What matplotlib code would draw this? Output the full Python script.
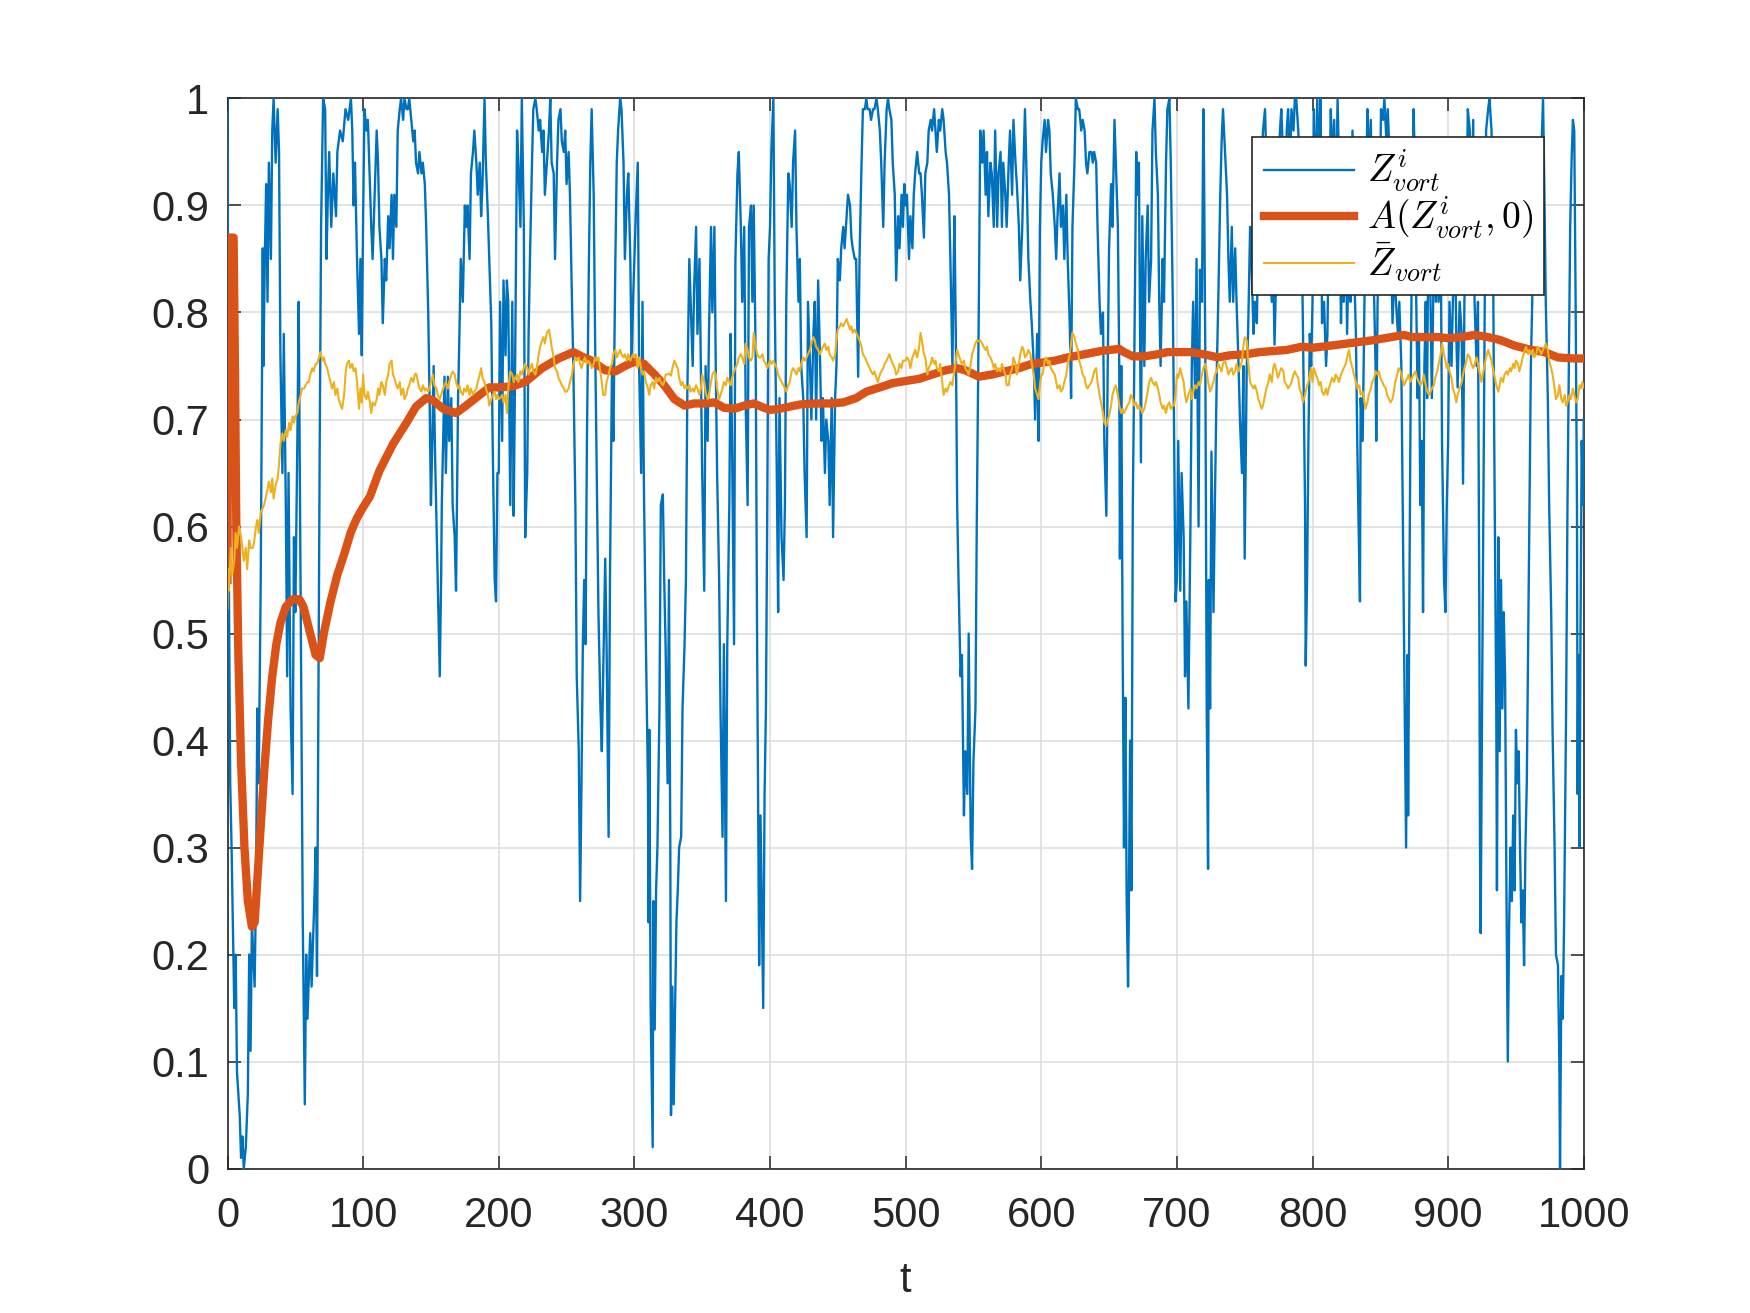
import numpy as np
import matplotlib
matplotlib.use("Agg")
import matplotlib.pyplot as plt

# === series (t, value) ===
z_vort = [
    (0, 1.0), (1, 0.55), (2, 0.36), (3, 0.30), (5, 0.15), (6, 0.20), (7, 0.09), (9, 0.05), (10, 0.01), (11, 0.03),
    (12, 0.0), (13.5, 0.02), (15, 0.07), (16, 0.20), (17, 0.11), (18, 0.23), (20, 0.17), (21, 0.26), (22, 0.43),
    (23, 0.36), (24.5, 0.55), (26, 0.86), (26.5, 0.75), (27.5, 0.85), (28.5, 0.92), (29.5, 0.81), (30.5, 0.94),
    (32, 0.85), (33, 0.97), (34, 1.0), (35.5, 0.94), (37, 0.99), (38, 0.95), (39, 0.76), (40.5, 0.65), (41.5, 0.78),
    (43, 0.62), (44, 0.46), (45, 0.65), (46.5, 0.43), (48, 0.35), (49, 0.59), (50, 0.52), (51.5, 0.68), (52.5, 0.81),
    (53.5, 0.62), (54.5, 0.43), (55.5, 0.23), (57, 0.06), (58, 0.20), (59, 0.14), (61, 0.22), (62, 0.17), (64, 0.25),
    (65, 0.30), (66, 0.18), (67, 0.43), (68, 0.68), (69, 0.88), (70.5, 1.0), (72, 0.99), (73, 0.85), (74, 0.91),
    (75, 0.95), (76.5, 0.88), (78, 0.93), (80, 0.89), (81, 0.95), (83, 0.97), (85, 0.96), (87, 0.99), (89, 0.98),
    (91, 1.0), (92, 0.97), (93, 0.90), (94, 0.94), (95.5, 0.85), (97, 0.78), (98, 0.85), (99, 0.76),
    (100, 0.89), (101, 0.99), (102.5, 0.97), (103.5, 0.98), (105, 0.92), (106, 0.88), (107, 0.85), (108.5, 0.91),
    (110, 0.97), (111, 0.94), (112, 0.88), (113.5, 0.85), (114.5, 0.79), (116, 0.85), (117, 0.83), (118.5, 0.89),
    (119.5, 0.86), (121, 0.91), (122, 0.85), (123, 0.91), (124.5, 0.88), (125.5, 0.97), (127, 0.99), (128, 1.0),
    (129.5, 0.98), (130.5, 1.0), (132, 0.99), (133, 0.99), (134, 1.0), (135.5, 0.98), (137, 0.96), (138, 0.97),
    (139, 0.94), (140.5, 0.93), (141.5, 0.95), (143, 0.93), (144, 0.94), (145.5, 0.92), (146.5, 0.88), (148, 0.80),
    (149, 0.72), (150, 0.62), (151, 0.68), (152, 0.75), (153, 0.67), (154, 0.61), (155, 0.55), (156.5, 0.46),
    (157.5, 0.55), (158, 0.62), (159, 0.68), (160, 0.74), (161, 0.65), (162.5, 0.74), (163.5, 0.68), (165, 0.72),
    (166, 0.62), (167.5, 0.59), (168.5, 0.54), (170, 0.72), (171, 0.78), (172, 0.85), (173.5, 0.81), (175, 0.90),
    (176, 0.88), (177, 0.90), (178.5, 0.85), (179.5, 0.93), (181, 0.95), (182, 0.97), (183.5, 0.94), (184.5, 0.91),
    (186, 0.94), (187, 0.89), (188, 0.92), (189.5, 1.0), (190.5, 0.94), (192, 0.89), (193, 0.85), (194.5, 0.79),
    (195.5, 0.68), (197, 0.55), (198, 0.53), (199, 0.65),
    (200, 0.65), (201, 0.81), (202.5, 0.68), (203.5, 0.83), (205, 0.76), (206, 0.83), (207, 0.81), (208.5, 0.62),
    (210, 0.81), (211, 0.61), (212, 0.74), (213.5, 0.97), (214.5, 0.94), (216, 0.88), (217, 1.0), (218.5, 0.88),
    (219.5, 0.59), (221, 0.65), (222, 0.78), (223, 0.85), (224.5, 0.94), (225.5, 0.99), (227, 1.0), (228, 0.99),
    (229.5, 0.97), (230.5, 0.98), (232, 0.95), (233, 0.97), (234, 0.91), (235.5, 0.94), (237, 0.97), (238, 1.0),
    (239, 0.94), (240.5, 0.93), (241.5, 0.85), (243, 0.94), (244, 0.98), (245.5, 0.99), (246.5, 0.96), (248, 0.95),
    (249, 0.97), (250, 0.92), (251.5, 0.95), (252.5, 0.91), (254, 0.81), (255, 0.75), (256.5, 0.62), (257.5, 0.46),
    (259, 0.39), (260, 0.25), (261, 0.36), (262, 0.49), (263, 0.55), (264, 0.49), (265, 0.68), (266.5, 0.85),
    (267.5, 0.94), (268.5, 0.99), (270, 0.91), (271, 0.78), (272.5, 0.62), (273.5, 0.52), (275, 0.43), (276, 0.39),
    (277, 0.46), (278.5, 0.57), (279.5, 0.49), (281, 0.31), (282, 0.55), (283.5, 0.75), (284.5, 0.68), (286, 0.85),
    (287, 0.94), (288, 0.97), (289.5, 1.0), (290.5, 0.99), (292, 0.94), (293, 0.85), (294.5, 0.91), (295.5, 0.93),
    (297, 0.85), (298, 0.75), (299, 0.81),
    (300, 0.85), (301, 0.89), (302.5, 0.94), (303.5, 0.75), (305, 0.65), (306, 0.81), (307, 0.64), (308.5, 0.49),
    (310, 0.36), (310.5, 0.23), (311, 0.41), (312, 0.15), (313.5, 0.02), (314, 0.25), (315, 0.13), (316, 0.26),
    (317, 0.30), (318.5, 0.43), (319.5, 0.62), (321, 0.63), (322, 0.55), (323, 0.49), (324.5, 0.36), (325.5, 0.55),
    (326.5, 0.30), (327, 0.05), (328, 0.17), (329, 0.06), (330, 0.15), (331, 0.23), (332, 0.26), (333, 0.30),
    (334.5, 0.31), (335.5, 0.43), (337, 0.49), (338, 0.55), (339, 0.72), (340.5, 0.85), (341.5, 0.81), (343, 0.75),
    (344, 0.82), (345.5, 0.88), (346.5, 0.78), (348, 0.85), (349, 0.75), (350, 0.65), (351.5, 0.54), (352.5, 0.75),
    (354, 0.68), (355, 0.78), (356.5, 0.88), (357.5, 0.80), (359, 0.88), (360, 0.75), (361, 0.65), (362.5, 0.55),
    (363.5, 0.43), (365, 0.31), (366, 0.49), (367.5, 0.25), (368.5, 0.49), (370, 0.62), (371, 0.78), (372, 0.68),
    (373.5, 0.49), (374.5, 0.85), (376, 0.93), (377, 0.95), (378.5, 0.88), (379.5, 0.81), (381, 0.88), (382, 0.72),
    (383.5, 0.62), (384.5, 0.88), (386, 0.90), (387, 0.81), (388, 0.90), (389.5, 0.75), (390.5, 0.49), (392, 0.19),
    (393, 0.33), (394.5, 0.20), (395, 0.15), (396, 0.35), (397, 0.43), (398, 0.62), (399, 0.85),
    (400, 0.88), (401, 0.95), (402.5, 1.0), (403.5, 0.81), (405, 0.65), (406, 0.52), (407, 0.72), (408.5, 0.59),
    (410, 0.55), (411, 0.62), (412, 0.81), (413.5, 0.93), (414.5, 0.92), (416, 0.88), (417, 0.94), (418.5, 0.97),
    (419.5, 0.88), (421, 0.81), (422, 0.85), (423, 0.75), (424.5, 0.72), (425.5, 0.65), (427, 0.59), (428, 0.81),
    (429.5, 0.75), (430.5, 0.70), (432, 0.78), (433, 0.81), (434, 0.70), (435.5, 0.83), (437, 0.75), (438, 0.68),
    (439, 0.72), (440.5, 0.65), (441.5, 0.70), (443, 0.68), (444, 0.62), (445.5, 0.72), (446.5, 0.59), (448, 0.72),
    (449, 0.75), (450, 0.85), (451.5, 0.83), (452.5, 0.86), (454, 0.88), (455, 0.86), (456.5, 0.89), (457.5, 0.91),
    (459, 0.90), (460, 0.87), (461, 0.86), (462.5, 0.85), (463.5, 0.85), (465, 0.74), (466, 0.85), (467.5, 0.94),
    (468.5, 0.99), (470, 0.99), (471, 1.0), (472, 0.99), (473.5, 0.99), (474.5, 0.98), (476, 0.99), (477, 0.99),
    (478.5, 1.0), (479.5, 0.99), (481, 0.97), (482, 0.94), (483.5, 0.88), (484.5, 0.94), (486, 0.99), (487, 1.0),
    (488, 0.99), (489.5, 0.98), (490.5, 0.94), (492, 0.91), (493, 0.83), (494.5, 0.89), (495.5, 0.86), (497, 0.91),
    (498, 0.88), (499, 0.92),
    (500, 0.90), (501, 0.91), (502.5, 0.85), (503.5, 0.89), (505, 0.86), (506, 0.91), (507, 0.93), (508.5, 0.95),
    (510, 0.93), (511, 0.93), (512, 0.91), (513.5, 0.87), (514.5, 0.93), (516, 0.94), (517, 0.97), (518.5, 0.98),
    (519.5, 0.97), (521, 0.99), (522, 0.97), (523, 0.95), (524.5, 0.98), (525.5, 0.97), (527, 0.99), (528, 0.98),
    (529.5, 0.95), (530.5, 0.94), (532, 0.91), (533, 0.85), (534.5, 0.75), (535.5, 0.85), (536, 0.89), (537, 0.78),
    (538, 0.62), (539, 0.55), (540.5, 0.46), (541.5, 0.48), (543, 0.33), (544, 0.39), (545.5, 0.35), (546.5, 0.50),
    (548, 0.31), (549, 0.28), (550, 0.38), (551.5, 0.43), (552.5, 0.61), (554, 0.81), (555, 0.97), (556.5, 0.94),
    (557.5, 0.97), (559, 0.91), (560, 0.95), (561, 0.89), (562.5, 0.94), (563.5, 0.93), (565, 0.88), (566, 0.97),
    (567.5, 0.88), (568.5, 0.93), (570, 0.95), (571, 0.88), (572, 0.94), (573.5, 0.91), (574.5, 0.88), (576, 0.94),
    (577, 0.97), (578.5, 0.91), (579.5, 0.98), (581, 0.94), (582, 0.92), (583.5, 0.88), (584.5, 0.83), (586, 0.88),
    (587, 0.94), (588, 0.99), (589.5, 0.91), (590.5, 0.85), (592, 0.81), (593, 0.79), (594.5, 0.75), (595.5, 0.70),
    (597, 0.78), (598, 0.68), (599, 0.88),
    (600, 0.94), (601, 0.96), (602.5, 0.98), (603.5, 0.95), (605, 0.98), (606, 0.97), (607, 0.93), (608.5, 0.91),
    (610, 0.88), (611, 0.85), (612, 0.89), (613.5, 0.93), (614.5, 0.88), (616, 0.90), (617, 0.85), (618.5, 0.91),
    (619.5, 0.85), (621, 0.79), (622, 0.72), (623, 0.88), (624.5, 0.94), (625.5, 1.0), (627, 0.99), (628, 0.99),
    (629.5, 0.97), (630.5, 0.98), (632, 0.97), (633, 0.94), (634, 0.93), (635.5, 0.95), (637, 0.95), (638, 0.94),
    (639, 0.95), (640.5, 0.94), (641.5, 0.88), (643, 0.81), (644, 0.78), (645.5, 0.80), (646.5, 0.68), (648, 0.61),
    (649, 0.75), (650, 0.86), (651.5, 0.92), (652.5, 0.88), (654, 0.98), (655, 0.94), (656.5, 0.88), (657.5, 0.75),
    (658, 0.57), (659, 0.75), (660, 0.49), (661, 0.30), (662, 0.44), (663, 0.25), (664, 0.17), (664.5, 0.23),
    (665.5, 0.40), (666.5, 0.26), (667.5, 0.62), (668.5, 0.74), (670, 0.95), (671, 0.91), (672, 0.94), (673.5, 0.66),
    (674.5, 0.89), (676, 0.75), (677, 0.85), (678.5, 0.90), (679.5, 0.81), (681, 0.85), (682, 0.97), (683.5, 1.0),
    (684.5, 0.95), (686, 0.91), (687, 0.81), (688, 0.75), (689.5, 0.85), (690.5, 0.81), (692, 0.94), (693, 0.99),
    (694.5, 1.0), (695.5, 0.94), (697, 0.81), (698, 0.68), (699, 0.53),
    (700, 0.55), (701, 0.68), (702.5, 0.54), (703.5, 0.65), (705, 0.59), (706, 0.46), (707, 0.53), (708.5, 0.43),
    (710, 0.60), (711, 0.75), (712, 0.81), (713.5, 0.72), (714.5, 0.85), (716, 0.60), (717, 0.84), (718.5, 0.81),
    (719.5, 0.99), (720, 0.94), (721, 0.75), (722, 0.43), (723, 0.28), (723.5, 0.55), (724.5, 0.43), (725.5, 0.67),
    (727, 0.52), (728, 0.62), (729.5, 0.75), (730.5, 0.81), (732, 0.91), (733, 0.96), (734, 0.99), (735.5, 0.95),
    (737, 0.91), (738, 0.85), (739, 0.81), (740.5, 0.88), (741.5, 0.81), (743, 0.86), (744, 0.81), (745.5, 0.75),
    (746.5, 0.70), (748, 0.65), (749, 0.75), (750, 0.57), (751.5, 0.75), (752.5, 0.78), (754, 0.88), (755, 0.85),
    (756.5, 0.78), (757.5, 0.81), (759, 0.79), (760, 0.88), (761, 0.91), (762.5, 0.94), (763.5, 0.97), (765, 0.99),
    (766, 0.94), (767.5, 0.88), (768.5, 0.85), (770, 0.81), (771, 0.85), (772, 0.77), (773.5, 0.85), (774.5, 0.91),
    (776, 0.97), (777, 0.99), (778.5, 0.94), (779.5, 0.91), (781, 0.97), (782, 0.99), (783.5, 0.94), (784.5, 0.99),
    (786, 0.97), (787, 1.0), (788, 1.0), (789.5, 0.97), (790.5, 0.94), (792, 0.88), (793, 0.78), (794.5, 0.62),
    (795, 0.47), (796, 0.55), (797, 0.68), (798, 0.78), (799, 0.75),
    (800, 0.81), (801, 0.99), (802.5, 0.90), (803.5, 1.0), (805, 0.93), (806, 1.0), (807, 0.79), (808.5, 0.81),
    (810, 0.75), (811, 0.78), (812, 0.88), (813.5, 0.99), (814.5, 0.94), (816, 0.98), (817, 0.88), (818.5, 1.0),
    (819.5, 0.94), (821, 0.79), (822, 0.85), (823, 0.81), (824.5, 0.88), (825.5, 0.78), (827, 0.88), (828, 0.81),
    (829.5, 0.97), (830.5, 0.85), (832, 0.78), (833, 0.68), (834, 0.60), (835, 0.53), (835.5, 0.72), (837, 0.68),
    (838, 0.78), (839, 0.88), (840.5, 0.99), (841.5, 0.94), (843, 0.98), (844, 0.88), (845.5, 0.81), (846.5, 0.75),
    (847, 0.68), (848, 0.81), (849.5, 0.88), (850.5, 0.99), (852, 0.98), (853, 1.0), (854.5, 0.96), (855.5, 0.99),
    (857, 0.94), (858, 0.85), (859, 0.79), (860.5, 0.85), (861.5, 0.81), (863, 0.78), (864, 0.81), (865.5, 0.75),
    (866.5, 0.62), (867.5, 0.49), (868.5, 0.36), (869, 0.30), (870, 0.48), (870.5, 0.33), (871.5, 0.55), (872.5, 0.75),
    (873.5, 0.88), (874.5, 0.99), (875.5, 0.94), (876.5, 0.81), (877.5, 0.72), (878.5, 0.78), (879.5, 0.62),
    (880.5, 0.68), (881.5, 0.52), (882.5, 0.75), (883.5, 0.81), (884.5, 0.72), (885, 0.81), (886, 0.88), (887, 0.81),
    (888, 0.72), (889, 0.81), (890, 0.88), (891, 0.81), (892, 0.88), (893, 0.81), (894.5, 0.88), (895.5, 0.68),
    (897, 0.55), (898, 0.52), (899, 0.62),
    (900, 0.68), (901, 0.81), (902.5, 0.75), (903.5, 0.81), (905, 0.88), (906, 0.78), (907, 0.73), (908.5, 0.81),
    (910, 0.78), (911, 0.64), (912, 0.81), (913.5, 0.88), (914.5, 0.99), (916, 0.97), (917, 0.88), (918.5, 0.98),
    (919.5, 0.81), (921, 0.75), (922, 0.81), (923, 0.52), (923.5, 0.30), (924, 0.22), (925, 0.43), (926, 0.62),
    (927, 0.81), (928, 0.97), (929.5, 0.99), (930.5, 1.0), (932, 0.97), (933, 0.88), (934, 0.68), (935.5, 0.43),
    (936, 0.26), (937, 0.59), (938, 0.39), (939, 0.55), (940, 0.43), (941, 0.52), (942, 0.46), (943, 0.26),
    (944, 0.10), (945, 0.23), (946, 0.30), (947, 0.25), (948, 0.33), (949, 0.26), (950, 0.41), (951, 0.36),
    (952, 0.39), (953, 0.30), (954, 0.23), (955, 0.26), (956, 0.19), (957, 0.30), (958, 0.36), (959, 0.49),
    (960, 0.62), (961, 0.75), (962, 0.81), (963, 0.88), (964, 0.94), (965, 0.88), (966, 0.91), (967.5, 0.88),
    (968.5, 0.94), (970, 1.0), (971, 0.91), (972, 0.81), (973.5, 0.72), (974.5, 0.62), (976, 0.52), (977, 0.41),
    (978.5, 0.30), (979.5, 0.20), (981, 0.19), (982, 0.10), (982.5, 0.0), (983.5, 0.18), (984.5, 0.14),
    (985.5, 0.23), (986, 0.30), (987, 0.43), (988, 0.62), (989, 0.75), (990, 0.88), (991, 0.94), (992, 0.98),
    (993, 0.97), (994, 0.81), (995, 0.62), (995.5, 0.35), (996, 0.48), (997, 0.30), (997.5, 0.48), (998.5, 0.68),
    (999.5, 0.62), (1000, 0.70),
]

a_vort = [
    (0, 0.55), (0.5, 0.87), (4.5, 0.87), (5.5, 0.75), (6.5, 0.60), (8, 0.48), (10, 0.38), (12.5, 0.30), (15, 0.25),
    (18, 0.226), (20, 0.23), (22, 0.27), (24, 0.31), (27, 0.37), (30, 0.42), (33, 0.46), (36, 0.49), (39, 0.51),
    (43, 0.525), (48, 0.532), (53, 0.532), (56, 0.525), (59, 0.51), (62, 0.495), (65, 0.48), (68, 0.477), (71, 0.50),
    (76, 0.53), (81, 0.555), (86, 0.574), (91, 0.595), (95.5, 0.608), (100, 0.618), (105, 0.628), (112, 0.652),
    (122, 0.677), (132, 0.697), (139, 0.712), (146.5, 0.72), (151.5, 0.718), (159, 0.71), (168.5, 0.706),
    (176, 0.713), (186, 0.723), (193, 0.73), (200, 0.73), (210, 0.731), (219.5, 0.735), (232, 0.748), (244, 0.757),
    (255, 0.763), (261, 0.759), (268.5, 0.755), (278.5, 0.746), (286, 0.745), (293, 0.75), (300, 0.754),
    (307, 0.752), (315, 0.742), (322, 0.732), (329.5, 0.719), (337, 0.713), (344, 0.715), (351.5, 0.715),
    (359, 0.716), (366, 0.711), (373.5, 0.71), (381, 0.713), (388, 0.715), (395.5, 0.711), (400, 0.709),
    (407, 0.71), (414.5, 0.712), (422, 0.714), (432, 0.715), (444, 0.715), (454, 0.716), (463.5, 0.72),
    (471, 0.726), (481, 0.73), (490.5, 0.734), (500, 0.736), (510, 0.738), (519.5, 0.742), (529.5, 0.746),
    (538, 0.748), (544, 0.746), (554, 0.74), (563.5, 0.742), (573.5, 0.745), (583.5, 0.748), (593, 0.752),
    (600, 0.753), (610, 0.755), (619.5, 0.758), (632, 0.761), (644, 0.764), (657.5, 0.766), (661, 0.763),
    (667.5, 0.759), (676, 0.759), (686, 0.761), (693, 0.763), (700, 0.763), (710, 0.763), (719.5, 0.761),
    (730.5, 0.758), (739, 0.76), (751.5, 0.761), (761, 0.763), (771, 0.764), (781, 0.765), (792, 0.768),
    (800, 0.767), (819.5, 0.77), (844, 0.774), (867.5, 0.779), (873.5, 0.777), (883.5, 0.777), (893, 0.777),
    (900, 0.776), (910, 0.777), (919.5, 0.779), (929.5, 0.777), (939, 0.774), (949, 0.769), (961.5, 0.765),
    (971, 0.763), (981, 0.758), (993, 0.757), (1000, 0.757),
]

zbar_vort = [
    (0, 0.523), (0.5, 0.56), (1, 0.54), (2.5, 0.58), (3.5, 0.555), (5, 0.568), (6, 0.594), (7, 0.58), (8.5, 0.60),
    (10, 0.59), (11, 0.58), (12, 0.568), (13.5, 0.58), (14.5, 0.56), (16, 0.587), (17, 0.58), (18.5, 0.58),
    (19.5, 0.584), (21, 0.60), (22, 0.606), (23, 0.594), (24.5, 0.613), (25.5, 0.616), (27, 0.62), (28, 0.626),
    (29.5, 0.635), (30.5, 0.642), (32, 0.632), (33, 0.645), (34, 0.626), (35.5, 0.639), (37, 0.645), (38, 0.658),
    (39, 0.677), (40.5, 0.687), (41.5, 0.68), (43, 0.69), (44, 0.684), (45.5, 0.697), (46.5, 0.69), (48, 0.703),
    (49, 0.697), (50, 0.703), (51.5, 0.706), (52.5, 0.716), (54, 0.723), (55, 0.729), (56.5, 0.729), (57.5, 0.732),
    (59, 0.735), (60, 0.735), (61, 0.742), (62.5, 0.748), (63.5, 0.745), (65, 0.752), (66, 0.752), (67.5, 0.758),
    (68.5, 0.763), (70, 0.755), (71, 0.758), (72, 0.752), (73.5, 0.748), (74.5, 0.742), (76, 0.735), (77, 0.729),
    (78.5, 0.735), (79.5, 0.723), (81, 0.729), (82, 0.719), (83.5, 0.713), (84.5, 0.71), (86, 0.723), (87, 0.742),
    (88, 0.752), (89.5, 0.755), (90.5, 0.748), (92, 0.752), (93, 0.745), (94.5, 0.748), (95.5, 0.735), (97, 0.71),
    (98, 0.729), (99, 0.716),
    (100, 0.742), (101, 0.723), (102.5, 0.719), (103.5, 0.726), (105, 0.716), (106, 0.706), (107, 0.716),
    (108.5, 0.713), (110, 0.719), (111, 0.729), (112, 0.723), (113.5, 0.735), (114.5, 0.732), (116, 0.723),
    (117, 0.735), (118.5, 0.742), (119.5, 0.752), (121, 0.755), (122, 0.742), (123, 0.739), (124.5, 0.732),
    (125.5, 0.729), (127, 0.735), (128, 0.723), (129.5, 0.729), (130.5, 0.719), (132, 0.723), (133, 0.729),
    (134, 0.732), (135.5, 0.739), (137, 0.735), (138, 0.742), (139, 0.743), (140.5, 0.735), (141.5, 0.729),
    (143, 0.726), (144, 0.732), (145.5, 0.727), (146.5, 0.729), (148, 0.726), (149, 0.729), (150, 0.735),
    (151.5, 0.742), (152.5, 0.732), (154, 0.729), (155, 0.723), (156.5, 0.719), (157.5, 0.723), (159, 0.729),
    (160, 0.732), (161, 0.735), (162.5, 0.729), (163.5, 0.735), (165, 0.742), (166, 0.745), (167.5, 0.742),
    (168.5, 0.735), (170, 0.729), (171, 0.732), (172, 0.726), (173.5, 0.723), (174.5, 0.729), (176, 0.726),
    (177, 0.732), (178.5, 0.723), (179.5, 0.729), (181, 0.723), (182, 0.726), (183.5, 0.729), (184.5, 0.735),
    (186, 0.742), (187, 0.748), (188, 0.739), (189.5, 0.735), (190.5, 0.729), (192, 0.723), (193, 0.713),
    (194.5, 0.719), (195.5, 0.723), (197, 0.726), (198, 0.719), (199, 0.723),
    (200, 0.719), (201, 0.72), (202.5, 0.723), (203.5, 0.716), (205, 0.723), (206, 0.706), (207, 0.729),
    (208.5, 0.745), (210, 0.742), (211, 0.735), (212, 0.739), (213.5, 0.742), (214.5, 0.735), (216, 0.745),
    (217, 0.742), (218.5, 0.748), (219.5, 0.752), (221, 0.748), (222, 0.742), (223, 0.748), (224.5, 0.752),
    (225.5, 0.745), (227, 0.742), (228, 0.748), (229.5, 0.761), (230.5, 0.768), (232, 0.774), (233, 0.777),
    (234, 0.771), (235.5, 0.781), (237, 0.784), (238, 0.777), (239, 0.768), (240.5, 0.758), (241.5, 0.748),
    (243, 0.745), (244, 0.739), (245.5, 0.735), (246.5, 0.732), (248, 0.729), (249, 0.726), (250, 0.726),
    (251.5, 0.729), (252.5, 0.735), (254, 0.742), (255, 0.752), (256.5, 0.758), (257.5, 0.755), (259, 0.758),
    (260, 0.752), (261, 0.748), (262.5, 0.755), (263.5, 0.758), (265, 0.752), (266, 0.755), (267.5, 0.752),
    (268.5, 0.748), (270, 0.752), (271, 0.758), (272, 0.755), (273.5, 0.758), (274.5, 0.748), (276, 0.735),
    (277, 0.723), (278.5, 0.723), (279.5, 0.735), (281, 0.742), (282, 0.748), (283.5, 0.752), (284.5, 0.761),
    (286, 0.765), (287, 0.758), (288, 0.761), (289.5, 0.765), (290.5, 0.761), (292, 0.758), (293, 0.761),
    (294.5, 0.755), (295.5, 0.761), (297, 0.755), (298, 0.758), (299, 0.761),
    (300, 0.758), (301, 0.761), (302.5, 0.748), (303.5, 0.758), (305, 0.748), (306, 0.742), (307, 0.745),
    (308.5, 0.735), (310, 0.729), (311, 0.723), (312, 0.732), (313.5, 0.735), (314.5, 0.729), (316, 0.739),
    (317, 0.735), (318.5, 0.739), (319.5, 0.735), (321, 0.732), (322, 0.735), (323, 0.742), (324.5, 0.742),
    (325.5, 0.743), (327, 0.741), (328, 0.748), (329.5, 0.755), (330.5, 0.752), (332, 0.748), (333, 0.739),
    (334.5, 0.732), (335.5, 0.735), (337, 0.729), (338, 0.732), (339, 0.729), (340.5, 0.732), (341.5, 0.726),
    (343, 0.729), (344, 0.726), (345.5, 0.732), (346.5, 0.729), (348, 0.723), (349, 0.729), (350, 0.742),
    (351.5, 0.735), (352.5, 0.726), (354, 0.719), (355, 0.723), (356.5, 0.735), (357.5, 0.742), (359, 0.745),
    (360, 0.742), (361, 0.729), (362.5, 0.719), (363.5, 0.723), (365, 0.729), (366, 0.735), (367.5, 0.732),
    (368.5, 0.739), (370, 0.735), (371, 0.732), (372, 0.739), (373.5, 0.745), (374.5, 0.748), (376, 0.752),
    (377, 0.758), (378.5, 0.761), (379.5, 0.758), (381, 0.752), (382, 0.771), (383.5, 0.765), (384.5, 0.758),
    (386, 0.755), (387, 0.758), (388, 0.781), (389.5, 0.768), (390.5, 0.761), (392, 0.758), (393, 0.758),
    (394.5, 0.761), (395.5, 0.755), (397, 0.752), (398, 0.748), (399, 0.752),
    (400, 0.755), (401, 0.752), (402.5, 0.755), (403.5, 0.752), (405, 0.748), (406, 0.742), (407, 0.739),
    (408.5, 0.735), (410, 0.732), (411, 0.729), (412, 0.726), (413.5, 0.732), (414.5, 0.735), (416, 0.745),
    (417, 0.748), (418.5, 0.745), (419.5, 0.742), (421, 0.748), (422, 0.745), (423, 0.752), (424.5, 0.758),
    (425.5, 0.755), (427, 0.758), (428, 0.761), (429.5, 0.765), (430.5, 0.771), (432, 0.777), (433, 0.774),
    (434, 0.768), (435.5, 0.765), (437, 0.761), (438, 0.765), (439, 0.768), (440.5, 0.771), (441.5, 0.765),
    (443, 0.768), (444, 0.761), (445.5, 0.758), (446.5, 0.755), (448, 0.761), (449, 0.774), (450, 0.784),
    (451.5, 0.787), (452.5, 0.79), (454, 0.787), (455, 0.79), (456.5, 0.794), (457.5, 0.79), (459, 0.784),
    (460, 0.787), (461, 0.781), (462.5, 0.784), (463.5, 0.781), (465, 0.777), (466, 0.774), (467.5, 0.768),
    (468.5, 0.761), (470, 0.758), (471, 0.755), (472, 0.752), (473.5, 0.748), (474.5, 0.745), (476, 0.742),
    (477, 0.745), (478.5, 0.739), (479.5, 0.735), (481, 0.742), (482, 0.745), (483.5, 0.748), (484.5, 0.752),
    (486, 0.755), (487, 0.758), (488, 0.761), (489.5, 0.755), (490.5, 0.752), (492, 0.748), (493, 0.742),
    (494.5, 0.745), (495.5, 0.752), (497, 0.748), (498, 0.755), (499, 0.755),
    (500, 0.755), (501, 0.758), (502.5, 0.755), (503.5, 0.748), (505, 0.758), (506, 0.761), (507, 0.765),
    (508.5, 0.758), (510, 0.768), (511, 0.781), (512, 0.774), (513.5, 0.761), (514.5, 0.758), (516, 0.742),
    (517, 0.748), (518.5, 0.752), (519.5, 0.758), (521, 0.752), (522, 0.755), (523, 0.748), (524.5, 0.745),
    (525.5, 0.752), (527, 0.735), (528, 0.723), (529.5, 0.729), (530.5, 0.726), (532, 0.732), (533, 0.735),
    (534.5, 0.732), (535.5, 0.742), (537, 0.755), (538, 0.765), (539, 0.761), (540.5, 0.755), (541.5, 0.752),
    (543, 0.755), (544, 0.748), (545.5, 0.745), (546.5, 0.742), (548, 0.752), (549, 0.761), (550, 0.765),
    (551.5, 0.771), (552.5, 0.774), (554, 0.773), (555, 0.774), (556.5, 0.771), (557.5, 0.768), (559, 0.765),
    (560, 0.768), (561, 0.761), (562.5, 0.758), (563.5, 0.755), (565, 0.748), (566, 0.752), (567.5, 0.745),
    (568.5, 0.748), (570, 0.745), (571, 0.752), (572, 0.748), (573.5, 0.742), (574.5, 0.732), (576, 0.732),
    (577, 0.742), (578.5, 0.748), (579.5, 0.758), (581, 0.752), (582, 0.742), (583.5, 0.752), (584.5, 0.761),
    (586, 0.768), (587, 0.765), (588, 0.758), (589.5, 0.761), (590.5, 0.765), (592, 0.761), (593, 0.752),
    (594.5, 0.742), (595.5, 0.729), (597, 0.723), (598, 0.719), (599, 0.732),
    (600, 0.742), (601, 0.742), (602.5, 0.755), (603.5, 0.758), (605, 0.752), (606, 0.755), (607, 0.748),
    (608.5, 0.745), (610, 0.742), (611, 0.735), (612, 0.729), (613.5, 0.732), (614.5, 0.726), (616, 0.729),
    (617, 0.735), (618.5, 0.742), (619.5, 0.752), (621, 0.761), (622, 0.771), (623, 0.781), (624.5, 0.777),
    (625.5, 0.771), (627, 0.765), (628, 0.755), (629.5, 0.748), (630.5, 0.742), (632, 0.739), (633, 0.732),
    (634, 0.729), (635.5, 0.732), (637, 0.735), (638, 0.739), (639, 0.745), (640.5, 0.748), (641.5, 0.735),
    (643, 0.723), (644, 0.716), (645.5, 0.706), (646.5, 0.697), (648, 0.694), (649, 0.70), (650, 0.703),
    (651.5, 0.713), (652.5, 0.723), (654, 0.729), (655, 0.732), (656.5, 0.723), (657.5, 0.713), (659, 0.706),
    (660, 0.71), (661, 0.706), (662.5, 0.71), (663.5, 0.713), (665, 0.716), (666, 0.723), (667.5, 0.719),
    (668.5, 0.713), (670, 0.716), (671, 0.71), (672, 0.713), (673.5, 0.71), (674.5, 0.706), (676, 0.71),
    (677, 0.716), (678.5, 0.726), (679.5, 0.735), (681, 0.739), (682, 0.735), (683.5, 0.732), (684.5, 0.735),
    (686, 0.729), (687, 0.723), (688, 0.716), (689.5, 0.71), (690.5, 0.713), (692, 0.706), (693, 0.713),
    (694.5, 0.716), (695.5, 0.71), (697, 0.713), (698, 0.713), (699, 0.723),
    (700, 0.742), (701, 0.739), (702.5, 0.748), (703.5, 0.742), (705, 0.735), (706, 0.723), (707, 0.716),
    (708.5, 0.723), (710, 0.729), (711, 0.719), (712, 0.726), (713.5, 0.732), (714.5, 0.729), (716, 0.735),
    (717, 0.732), (718.5, 0.742), (719.5, 0.748), (721, 0.752), (722, 0.745), (723, 0.735), (724.5, 0.726),
    (725.5, 0.729), (727, 0.735), (728, 0.742), (729.5, 0.745), (730.5, 0.752), (732, 0.748), (733, 0.745),
    (734, 0.752), (735.5, 0.755), (737, 0.748), (738, 0.742), (739, 0.745), (740.5, 0.748), (741.5, 0.742),
    (743, 0.745), (744, 0.752), (745.5, 0.745), (746.5, 0.748), (748, 0.755), (749, 0.768), (750, 0.777),
    (751.5, 0.774), (752.5, 0.755), (754, 0.735), (755, 0.732), (756.5, 0.729), (757.5, 0.732), (759, 0.726),
    (760, 0.719), (761, 0.716), (762.5, 0.71), (763.5, 0.713), (765, 0.723), (766, 0.729), (767.5, 0.735),
    (768.5, 0.742), (770, 0.735), (771, 0.748), (772, 0.752), (773.5, 0.745), (774.5, 0.739), (776, 0.745),
    (777, 0.748), (778.5, 0.745), (779.5, 0.735), (781, 0.732), (782, 0.729), (783.5, 0.732), (784.5, 0.735),
    (786, 0.742), (787, 0.745), (788, 0.742), (789.5, 0.739), (790.5, 0.729), (792, 0.723), (793, 0.716),
    (794.5, 0.723), (795.5, 0.729), (797, 0.735), (798, 0.742), (799, 0.748),
    (800, 0.735), (801, 0.748), (802.5, 0.742), (803.5, 0.739), (805, 0.732), (806, 0.735), (807, 0.726),
    (808.5, 0.723), (810, 0.729), (811, 0.723), (812, 0.729), (813.5, 0.735), (814.5, 0.739), (816, 0.735),
    (817, 0.742), (818.5, 0.739), (819.5, 0.735), (821, 0.742), (822, 0.745), (823, 0.748), (824.5, 0.752),
    (825.5, 0.758), (827, 0.765), (828, 0.755), (829.5, 0.748), (830.5, 0.742), (832, 0.735), (833, 0.729),
    (834.5, 0.732), (835.5, 0.723), (837, 0.726), (838, 0.719), (839, 0.71), (840.5, 0.716), (841.5, 0.723),
    (843, 0.729), (844, 0.735), (845.5, 0.739), (846.5, 0.745), (848, 0.742), (849, 0.745), (850, 0.739),
    (851.5, 0.735), (852.5, 0.732), (854, 0.729), (855, 0.723), (856.5, 0.719), (857.5, 0.716), (859, 0.719),
    (860, 0.726), (861, 0.735), (862.5, 0.742), (863.5, 0.748), (865, 0.745), (866, 0.739), (867.5, 0.732),
    (868.5, 0.735), (870, 0.739), (871, 0.742), (872, 0.735), (873.5, 0.739), (874.5, 0.742), (876, 0.745),
    (877, 0.739), (878.5, 0.735), (879.5, 0.732), (881, 0.735), (882, 0.742), (883.5, 0.732), (884.5, 0.726),
    (886, 0.723), (887, 0.726), (888, 0.729), (889.5, 0.732), (890.5, 0.739), (892, 0.745), (893, 0.752),
    (894.5, 0.761), (895.5, 0.771), (897, 0.761), (898, 0.755), (899, 0.748),
    (900, 0.752), (901, 0.745), (902.5, 0.739), (903.5, 0.729), (905, 0.723), (906, 0.716), (907, 0.723),
    (908.5, 0.729), (910, 0.735), (911, 0.742), (912, 0.748), (913.5, 0.755), (914.5, 0.761), (916, 0.758),
    (917, 0.752), (918.5, 0.748), (919.5, 0.752), (921, 0.758), (922, 0.752), (923, 0.745), (924.5, 0.735),
    (925.5, 0.742), (927, 0.752), (928, 0.758), (929.5, 0.765), (930.5, 0.761), (932, 0.755), (933, 0.748),
    (934, 0.742), (935.5, 0.732), (937, 0.726), (938, 0.732), (939, 0.739), (940.5, 0.735), (941.5, 0.742),
    (943, 0.745), (944, 0.742), (945.5, 0.748), (946.5, 0.745), (948, 0.752), (949, 0.748), (950, 0.755),
    (951.5, 0.752), (952.5, 0.745), (954, 0.752), (955, 0.758), (956.5, 0.765), (957.5, 0.768), (959, 0.761),
    (960, 0.765), (961, 0.761), (962.5, 0.765), (963.5, 0.758), (965, 0.761), (966, 0.768), (967.5, 0.765),
    (968.5, 0.761), (970, 0.765), (971, 0.768), (972, 0.771), (973.5, 0.765), (974.5, 0.755), (976, 0.748),
    (977, 0.742), (978.5, 0.729), (979.5, 0.719), (981, 0.723), (982, 0.732), (983.5, 0.719), (984.5, 0.716),
    (986, 0.723), (987, 0.713), (988, 0.716), (989.5, 0.723), (990.5, 0.719), (992, 0.729), (993, 0.723),
    (994.5, 0.716), (995.5, 0.719), (997, 0.732), (998, 0.729), (999, 0.735), (1000, 0.73),
]

x_ticks = [0, 100, 200, 300, 400, 500, 600, 700, 800, 900, 1000]
y_ticks = [0, 0.1, 0.2, 0.3, 0.4, 0.5, 0.6, 0.7, 0.8, 0.9, 1]
y_tick_labels = ["0", "0.1", "0.2", "0.3", "0.4", "0.5", "0.6", "0.7", "0.8", "0.9", "1"]

# === style (MATLAB-like) ===
plt.rcParams['font.family'] = ['Liberation Sans', 'DejaVu Sans']
plt.rcParams['mathtext.fontset'] = 'cm'
ink = '#262626'

fig = plt.figure(figsize=(17.5, 13.13), dpi=100)
ax = fig.add_axes([0.13, 0.11, 0.775, 0.815])

t1, v1 = np.array(z_vort).T
t2, v2 = np.array(a_vort).T
t3, v3 = np.array(zbar_vort).T

ax.plot(t1, v1, color='#0072BD', lw=1.7, label=r'$Z^i_{vort}$', zorder=3)
ax.plot(t2, v2, color='#D95319', lw=6, label=r'$A(Z^i_{vort},0)$', zorder=4)
ax.plot(t3, v3, color='#EDB120', lw=1.5, label=r'$\bar{Z}_{vort}$', zorder=5)

ax.set_xlim(0, 1000)
ax.set_ylim(0, 1)
ax.set_xticks(x_ticks)
ax.set_yticks(y_ticks)
ax.set_yticklabels(y_tick_labels)
ax.grid(True, color='#DEDEDE', lw=1.2)
ax.set_axisbelow(True)
ax.tick_params(direction='in', length=9.5, width=1.1, colors=ink, labelsize=30,
               top=True, right=True)
ax.tick_params(axis='y', pad=13)
ax.tick_params(axis='x', pad=20)
for s in ax.spines.values():
    s.set_color(ink)
    s.set_linewidth(1.2)
ax.set_xlabel('t', fontsize=30, color=ink, labelpad=18)

leg = ax.legend(loc='upper right', bbox_to_anchor=(0.8823, 0.8957), bbox_transform=fig.transFigure,
                borderaxespad=0, fontsize=27, fancybox=False, framealpha=1, edgecolor=ink,
                handlelength=2.4, handletextpad=0.35, labelspacing=0.0, borderpad=0.3)
leg.get_frame().set_linewidth(1.2)
leg.set_zorder(10)

fig.savefig('out.png', dpi=100)
